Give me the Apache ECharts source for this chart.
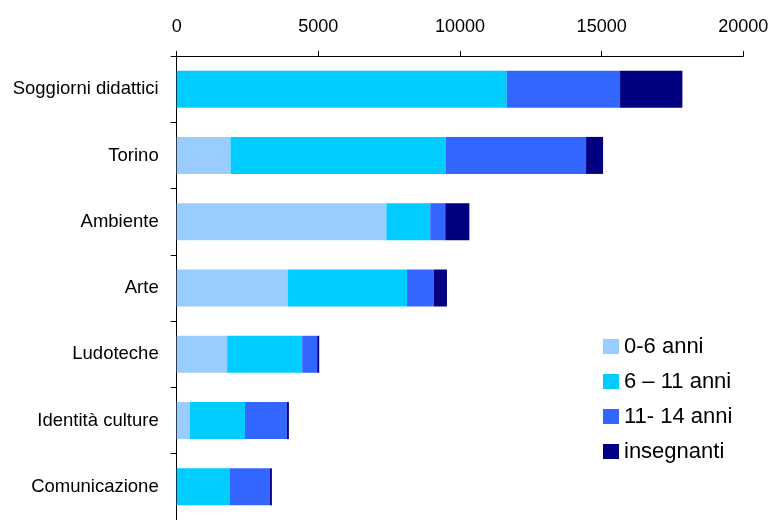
<!DOCTYPE html>
<html>
<head>
<meta charset="utf-8">
<script src="https://cdn.jsdelivr.net/npm/echarts@6/dist/echarts.min.js"></script>
<style>html,body{margin:0;padding:0;background:#fff;}#c{width:773px;height:520px;}</style>
</head>
<body>
<div id="c"></div>
<script>
const categories = ["Soggiorni didattici", "Torino", "Ambiente", "Arte", "Ludoteche", "Identità culture", "Comunicazione"];
const seriesNames = ["0-6 anni", "6 – 11 anni", "11- 14 anni", "insegnanti"];
const age0_6   = [0,     1900, 7400, 3930, 1780, 470,  0];
const age6_11  = [11650, 7600, 1550, 4200, 2650, 1940, 1880];
const age11_14 = [4000,  4950, 530,  950,  530,  1480, 1410];
const teachers = [2200,  600,  850,  460,  70,   70,   70];
const xTicks = { min: 0, max: 20000, interval: 5000 };
const colors = ["#99CCFF", "#00CCFF", "#3366FF", "#000080"];

const font = "'Liberation Sans', Arial, sans-serif";
const values = [age0_6, age6_11, age11_14, teachers];
const chart = echarts.init(document.getElementById('c'), null, { renderer: 'canvas' });
chart.setOption({
  animation: false,
  backgroundColor: '#fff',
  grid: { left: 176.7, top: 56, width: 566.6, height: 469, containLabel: false },
  legend: {
    orient: 'vertical', left: 603, top: 335.5, padding: 0,
    itemWidth: 16, itemHeight: 15, itemGap: 13, icon: 'rect',
    textStyle: { fontFamily: font, fontSize: 22, color: '#000' },
    data: seriesNames
  },
  xAxis: {
    type: 'value', position: 'top',
    min: xTicks.min, max: xTicks.max, interval: xTicks.interval,
    axisLine: { show: true, lineStyle: { color: '#000', width: 1 } },
    axisTick: { show: true, length: 5, lineStyle: { color: '#000' } },
    splitLine: { show: false },
    axisLabel: { fontFamily: font, fontSize: 18, color: '#000', margin: 20, formatter: v => String(v) }
  },
  yAxis: {
    type: 'category', inverse: true, data: categories,
    axisLine: { show: true, lineStyle: { color: '#000', width: 1 } },
    axisTick: { show: true, length: 6, lineStyle: { color: '#000' } },
    axisLabel: { fontFamily: font, fontSize: 18.5, color: '#000', margin: 18 }
  },
  series: seriesNames.map((n, i) => ({
    name: n, type: 'bar', stack: 'total', barWidth: 37,
    itemStyle: { color: colors[i] },
    data: values[i]
  }))
});
</script>
</body>
</html>
